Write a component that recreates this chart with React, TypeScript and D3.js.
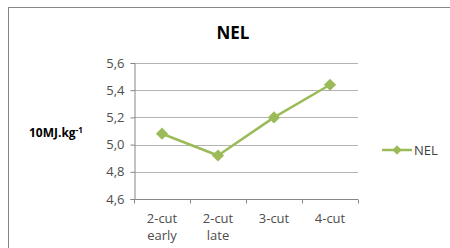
import React, { useEffect, useRef } from 'react';
import * as d3 from 'd3';

const categories = [['2-cut', 'early'], ['2-cut', 'late'], ['3-cut'], ['4-cut']];
const nelValues = [5.08, 4.92, 5.2, 5.44];
const yTicks = [4.6, 4.8, 5.0, 5.2, 5.4, 5.6];

const GREEN = '#9bbb59';
const FONT = '"Open Sans", "Noto Sans", sans-serif';

export default function App() {
  const ref = useRef<SVGSVGElement>(null);

  useEffect(() => {
    const svg = d3.select(ref.current);
    svg.selectAll('*').remove();

    const width = 450;
    const height = 248;
    const margin = { top: 63, left: 134, bottom: 49, right: 92 };
    const iwidth = width - margin.left - margin.right;
    const iheight = height - margin.top - margin.bottom;

    // chart frame
    svg.append('rect')
      .attr('x', 8.5).attr('y', 7.5)
      .attr('width', 460).attr('height', 260)
      .attr('fill', '#fff').attr('stroke', '#868686');

    svg.append('text')
      .attr('x', 233).attr('y', 39)
      .attr('text-anchor', 'middle')
      .style('font-family', FONT).style('font-size', '17px').style('font-weight', 'bold')
      .attr('fill', '#000')
      .text('NEL');

    const g = svg.append('g').attr('transform', `translate(${margin.left},${margin.top})`);

    const y = d3.scaleLinear().domain([4.6, 5.6]).range([iheight, 0]);
    const x = d3.scaleBand<number>()
      .domain(categories.map((_, i) => i))
      .range([0, iwidth]);

    // gridlines
    g.selectAll('line.grid').data(yTicks.slice(1)).enter().append('line')
      .attr('class', 'grid')
      .attr('x1', 0).attr('x2', iwidth)
      .attr('y1', (d) => Math.round(y(d)) + 0.5).attr('y2', (d) => Math.round(y(d)) + 0.5)
      .attr('stroke', '#b3b3b3');

    // y axis
    const yAxis = g.append('g')
      .attr('transform', 'translate(0.5,0)')
      .call(d3.axisLeft(y).tickValues(yTicks).tickSize(4).tickPadding(6)
        .tickFormat((d) => d3.format('.1f')(d as number).replace('.', ',')));
    yAxis.select('.domain').attr('stroke', '#868686');
    yAxis.selectAll('.tick line').attr('stroke', '#868686');
    yAxis.selectAll('.tick text')
      .style('font-family', FONT).style('font-size', '13px').attr('fill', '#4d4d4d');

    // x axis
    const xAxisG = g.append('g').attr('transform', `translate(0,${Math.round(iheight) + 0.5})`);
    xAxisG.append('line').attr('x1', 0).attr('x2', iwidth).attr('stroke', '#868686');
    xAxisG.selectAll('line.tk').data(d3.range(categories.length + 1)).enter().append('line')
      .attr('class', 'tk')
      .attr('x1', (d) => Math.round(d * x.bandwidth()) + 0.5)
      .attr('x2', (d) => Math.round(d * x.bandwidth()) + 0.5)
      .attr('y1', 0).attr('y2', 4)
      .attr('stroke', '#868686');
    const xl = xAxisG.selectAll('text.xl').data(categories).enter().append('text')
      .attr('class', 'xl')
      .attr('text-anchor', 'middle')
      .attr('x', (_, i) => (x(i) as number) + x.bandwidth() / 2)
      .attr('y', 23)
      .style('font-family', FONT).style('font-size', '13px').attr('fill', '#4d4d4d');
    xl.each(function (d) {
      const t = d3.select(this);
      d.forEach((s, j) => {
        t.append('tspan')
          .attr('x', t.attr('x'))
          .attr('dy', j === 0 ? 0 : 17)
          .text(s);
      });
    });

    // y axis title
    const yt = svg.append('text')
      .attr('x', 29).attr('y', 137)
      .style('font-family', FONT).style('font-size', '12px').style('font-weight', 'bold')
      .attr('fill', '#000');
    yt.append('tspan').text('10MJ.kg');
    yt.append('tspan').attr('dy', -4).style('font-size', '8px').text('-1');

    // line + markers
    const line = d3.line<number>()
      .x((_, i) => (x(i) as number) + x.bandwidth() / 2)
      .y((d) => y(d));
    g.append('path').datum(nelValues)
      .attr('d', line)
      .attr('fill', 'none').attr('stroke', GREEN).attr('stroke-width', 2.5)
      .attr('stroke-linejoin', 'round');

    const diamond = d3.symbol().type(d3.symbolDiamond2).size(95);
    g.selectAll('path.pt').data(nelValues).enter().append('path')
      .attr('class', 'pt')
      .attr('d', diamond)
      .attr('transform', (d, i) => `translate(${(x(i) as number) + x.bandwidth() / 2},${y(d)})`)
      .attr('fill', GREEN);

    // legend
    const lg = svg.append('g').attr('transform', 'translate(382,150)');
    lg.append('line').attr('x1', 0).attr('x2', 30).attr('stroke', GREEN).attr('stroke-width', 2.5);
    lg.append('path').attr('d', d3.symbol().type(d3.symbolDiamond2).size(55)).attr('transform', 'translate(15,0)').attr('fill', GREEN);
    lg.append('text').attr('x', 32).attr('y', 5)
      .style('font-family', FONT).style('font-size', '13px').attr('fill', '#404040')
      .text('NEL');
  }, []);

  return (
    <div>
      <svg ref={ref} width={450} height={248} style={{ position: 'absolute', left: 0, top: 0 }} />
    </div>
  );
}
